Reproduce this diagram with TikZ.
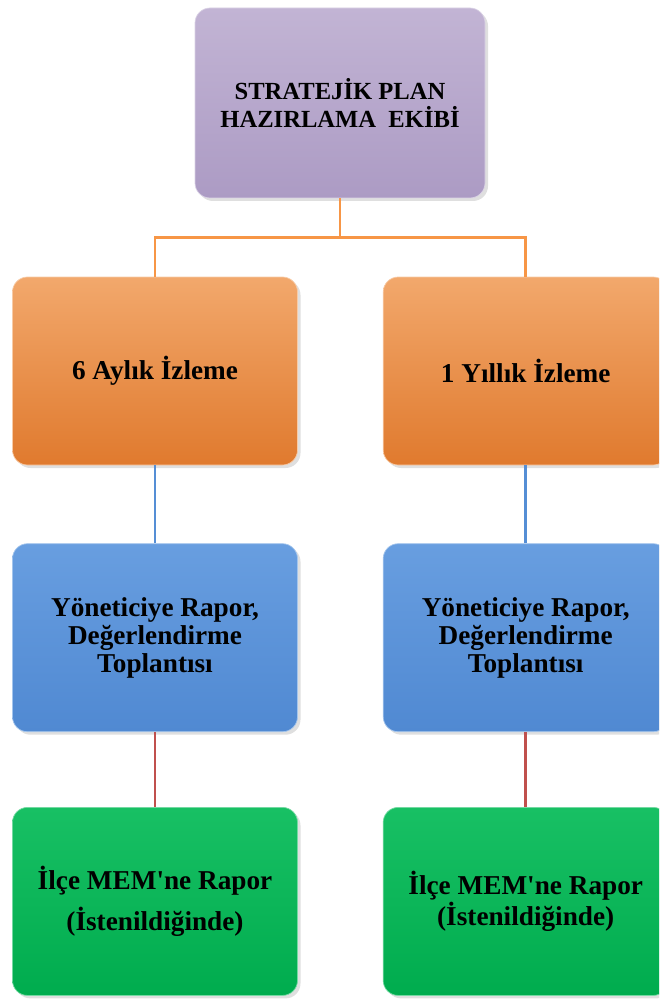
\documentclass[tikz,border=0pt]{standalone}
\usepackage{fontspec}
\setmainfont{Liberation Serif}[Ligatures=TeXOff]
\usetikzlibrary{positioning, shadows}

\definecolor{purpleTop}{RGB}{194,180,212}
\definecolor{purpleBot}{RGB}{172,155,196}
\definecolor{orangeTop}{RGB}{242,168,108}
\definecolor{orangeBot}{RGB}{224,122,46}
\definecolor{blueTop}{RGB}{104,158,224}
\definecolor{blueBot}{RGB}{80,137,210}
\definecolor{greenTop}{RGB}{24,192,100}
\definecolor{greenBot}{RGB}{0,172,78}
\definecolor{lineOrange}{RGB}{247,150,70}
\definecolor{lineBlue}{RGB}{85,142,213}
\definecolor{lineRed}{RGB}{192,80,77}

\begin{document}
\begin{tikzpicture}[
    box/.style={rectangle, rounded corners=3mm, minimum width=57mm,
        minimum height=37.6mm, align=center, text=black,
        font=\bfseries\fontsize{15.5}{16}\selectfont,
        drop shadow={opacity=0.25, shadow xshift=0.6mm, shadow yshift=-0.6mm}},
    topbox/.style={box, minimum width=58mm, minimum height=38mm,
        top color=purpleTop, bottom color=purpleBot, draw=purpleTop!60!white,
        font=\bfseries\fontsize{14}{15.5}\selectfont},
    orangebox/.style={box, top color=orangeTop, bottom color=orangeBot, draw=orangeTop!60!white},
    bluebox/.style={box, top color=blueTop, bottom color=blueBot, draw=blueTop!60!white},
    greenbox/.style={box, top color=greenTop, bottom color=greenBot, draw=greenTop!60!white},
    orangeline/.style={draw=lineOrange, line width=1.7pt},
    blueline/.style={draw=lineBlue, line width=1.5pt},
    redline/.style={draw=lineRed, line width=1.5pt}
]

\clip (0,0) rectangle (13.18,-19.98);

\node[topbox] (top) at (6.8,-2.06) {STRATEJİK PLAN\\HAZIRLAMA\ \ EKİBİ};
\coordinate[below=7.8mm of top] (hub);

\node[orangebox] (o6) at (3.1,-7.42) {6 Aylık İzleme};
\node[orangebox] (o1) [right=17mm of o6] {1 Yıllık İzleme};

\node[bluebox] (b6) [below=15.6mm of o6] {Yöneticiye Rapor,\\Değerlendirme\\Toplantısı};
\node[bluebox] (b1) [below=15.6mm of o1] {Yöneticiye Rapor,\\Değerlendirme\\Toplantısı};

\node[greenbox] (g6) [below=15mm of b6] {İlçe MEM'ne Rapor\\[6pt](İstenildiğinde)};
\node[greenbox] (g1) [below=15mm of b1] {İlçe MEM'ne Rapor\\(İstenildiğinde)};

% connectors
\draw[orangeline] (top.south) -- (hub) -| (o6.north);
\draw[orangeline] (hub) -| (o1.north);
\draw[blueline] (o6.south) -- (b6.north);
\draw[blueline] (o1.south) -- (b1.north);
\draw[redline] (b6.south) -- (g6.north);
\draw[redline] (b1.south) -- (g1.north);

\end{tikzpicture}
\end{document}
